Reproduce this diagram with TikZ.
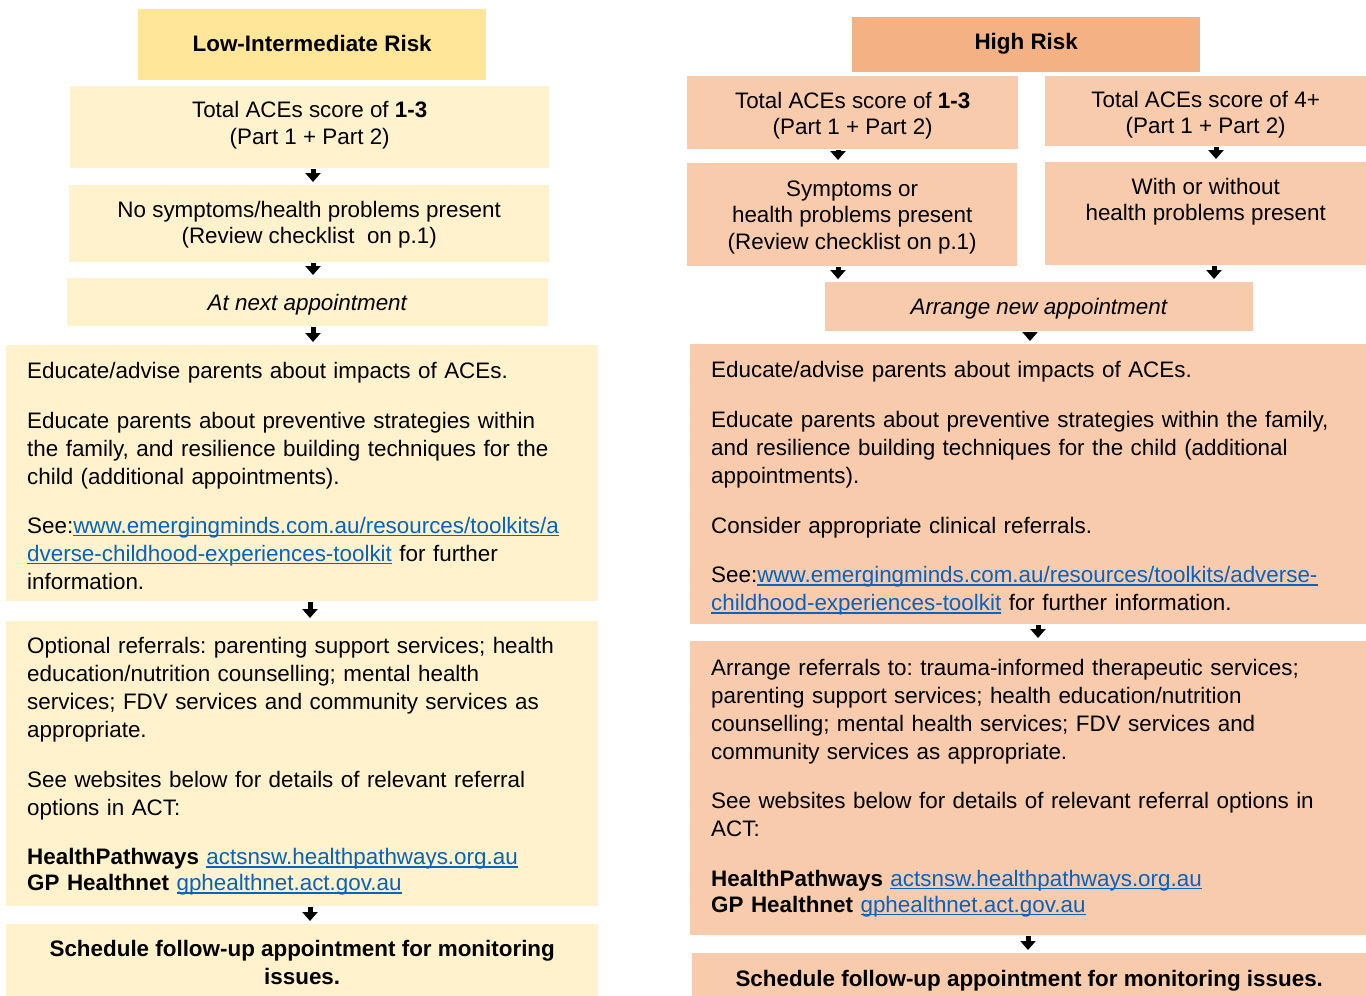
\documentclass[tikz,border=0pt]{standalone}
\usepackage{fontspec}
\setmainfont{Liberation Sans}
\usetikzlibrary{arrows.meta}
\definecolor{lowhead}{HTML}{FFE699}
\definecolor{lowfill}{HTML}{FFF2CC}
\definecolor{highhead}{HTML}{F4B183}
\definecolor{highfill}{HTML}{F8CBAD}
\definecolor{linkblue}{HTML}{0563C1}
\newcommand{\lnk}[1]{\textcolor{linkblue}{\setbox0=\hbox{#1}\rlap{\rule[-3pt]{\wd0}{1.4pt}}\box0}}
\newcommand{\topgap}[1]{\rule{0pt}{#1pt}}
\newcommand{\botgap}[1]{\rule[-#1pt]{0pt}{0pt}}
\frenchspacing
\begin{document}
\begin{tikzpicture}[x=1pt,y=-1pt]
    \tikzstyle{every node}=[font=\fontsize{22.4}{28}\selectfont, inner sep=0pt]
    \tikzstyle{box}=[anchor=north west, align=center]
    \tikzstyle{low head}=[box, fill=lowhead]
    \tikzstyle{low box}=[box, fill=lowfill]
    \tikzstyle{high head}=[box, fill=highhead]
    \tikzstyle{high box}=[box, fill=highfill]
    \tikzstyle{small}=[font=\fontsize{22.4}{26.5}\selectfont]
    \tikzstyle{body}=[align=left, inner xsep=21pt]
    \tikzstyle{arrow}=[line width=5pt, -{Triangle[width=15pt,length=9pt]}, shorten <=1pt, shorten >=3pt]

    \useasboundingbox (0,0) rectangle (1366,996);

    % Low-intermediate risk column
    \node[low head, minimum width=348pt, minimum height=71pt] (lh) at (138,9)
        {\textbf{Low-Intermediate Risk}\botgap{2}};
    \node[low box, small, minimum width=479pt, minimum height=82pt] (l1) at (70,86)
        {Total ACEs score of \textbf{1-3}\\(Part 1 + Part 2)\botgap{8.8}};
    \node[low box, small, minimum width=480pt, minimum height=77pt] (l2) at (69,185)
        {\topgap{18.5}No symptoms/health problems present\\(Review checklist\ \ on p.1)};
    \node[low box, minimum width=481pt, minimum height=48pt] (l3) at (67,278)
        {\topgap{20.5}\textit{At next appointment}};
    \node[low box, body, text width=550pt, minimum height=256pt] (l4) at (6,345)
        {\topgap{21.5}Educate/advise parents about impacts of ACEs.\\[22pt]
         Educate parents about preventive strategies within\\
         the family, and resilience building techniques for the\\
         child (additional appointments).\\[21pt]
         See:\lnk{www.emergingminds.com.au/resources/toolkits/a}\\
         \lnk{dverse-childhood-experiences-toolkit} for further\\
         information.};
    \node[low box, body, text width=550pt, minimum height=285pt] (l5) at (6,621)
        {\topgap{21.5}Optional referrals: parenting support services; health\\
         education/nutrition counselling; mental health\\
         services; FDV services and community services as\\
         appropriate.\\[22pt]
         See websites below for details of relevant referral\\
         options in ACT:\\[21pt]
         \textbf{HealthPathways} \lnk{actsnsw.healthpathways.org.au}\\[-2pt]
         \textbf{GP Healthnet} \lnk{gphealthnet.act.gov.au}};
    \node[low box, minimum width=592pt, minimum height=72pt] (l6) at (6,924)
        {\topgap{20.5}\textbf{Schedule follow-up appointment for monitoring}\\\textbf{issues.}};

    % High risk column
    \node[high head, minimum width=348pt, minimum height=55pt] (rh) at (852,17)
        {\textbf{High Risk}\botgap{6.8}};
    \node[high box, small, minimum width=331pt, minimum height=73pt] (rA) at (687,76)
        {\topgap{22.5}Total ACEs score of \textbf{1-3}\\(Part 1 + Part 2)};
    \node[high box, small, minimum width=321pt, minimum height=70pt] (rB) at (1045,76)
        {\topgap{23.5}Total ACEs score of 4+\\(Part 1 + Part 2)};
    \node[high box, small, minimum width=330pt, minimum height=103pt] (rC) at (687,163)
        {\topgap{20.5}Symptoms or\\health problems present\\(Review checklist on p.1)};
    \node[high box, small, minimum width=321pt, minimum height=103pt] (rD) at (1045,162)
        {\topgap{22.5}With or without\\health problems present\\\strut};
    \node[high box, minimum width=428pt, minimum height=49pt] (rE) at (825,282)
        {\topgap{20.5}\textit{Arrange new appointment}};
    \node[high box, body, text width=634pt, minimum height=280pt] (rF) at (690,344)
        {\topgap{24.5}Educate/advise parents about impacts of ACEs.\\[22pt]
         Educate parents about preventive strategies within the family,\\
         and resilience building techniques for the child (additional\\
         appointments).\\[22pt]
         Consider appropriate clinical referrals.\\[21pt]
         See:\lnk{www.emergingminds.com.au/resources/toolkits/adverse-}\\
         \lnk{childhood-experiences-toolkit} for further information.};
    \node[high box, body, text width=634pt, minimum height=294pt] (rG) at (690,641)
        {Arrange referrals to: trauma-informed therapeutic services;\\
         parenting support services; health education/nutrition\\
         counselling; mental health services; FDV services and\\
         community services as appropriate.\\[21pt]
         See websites below for details of relevant referral options in\\
         ACT:\\[22pt]
         \textbf{HealthPathways} \lnk{actsnsw.healthpathways.org.au}\\[-2pt]
         \textbf{GP Healthnet} \lnk{gphealthnet.act.gov.au}};
    \node[high box, minimum width=674pt, minimum height=43pt] (rH) at (692,953)
        {\topgap{28.5}\textbf{Schedule follow-up appointment for monitoring issues.}};

    % Arrows between the boxes
    \foreach \a/\b/\x in {l1/l2/313, l2/l3/313, l3/l4/313, l4/l5/310, l5/l6/310,
                          rA/rC/838, rB/rD/1216, rC/rE/838, rD/rE/1214,
                          rE/rF/1030, rF/rG/1038, rG/rH/1028}
    {
        \coordinate (ax) at (\x,0);
        \draw[arrow] (\a.south -| ax) -- (\b.north -| ax);
    }
\end{tikzpicture}
\end{document}
